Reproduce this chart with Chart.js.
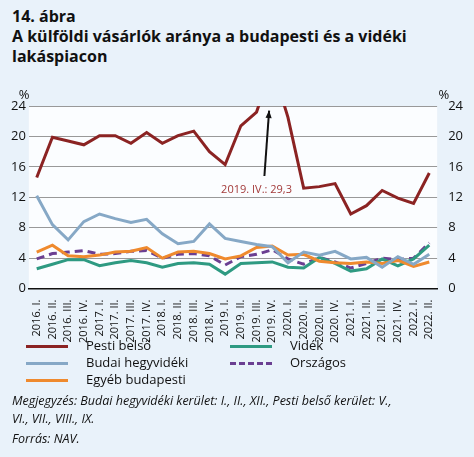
<!DOCTYPE html>
<html><head><meta charset="utf-8">
<script src="https://cdn.jsdelivr.net/npm/chart.js@4"></script>
<style>
body{margin:0;background:#e9f2fa;font-family:"Open Sans",Arial,sans-serif;width:474px;height:457px;overflow:hidden}
.t{position:absolute;left:12px;top:6px;font-weight:bold;font-size:16px;line-height:20px;color:#111}
#w{position:absolute;left:0;top:86px;width:474px;height:260px}
.lg{position:absolute;font-size:13px;color:#111}
.lg span{display:inline-block;width:42px;height:0;border-top:3px solid;vertical-align:middle;margin-right:18px}
.n{position:absolute;left:12px;font-size:12.5px;font-style:italic;color:#111;line-height:18px}
</style></head><body>
<div class="t">14. ábra<br>A külföldi vásárlók aránya a budapesti és a vidéki<br>lakáspiacon</div>
<div id="w"><canvas id="c"></canvas></div>
<div class="lg" style="left:26px;top:336px"><span style="border-color:#8b2323"></span>Pesti belső</div>
<div class="lg" style="left:26px;top:353px"><span style="border-color:#86a8c6"></span>Budai hegyvidéki</div>
<div class="lg" style="left:26px;top:370px"><span style="border-color:#ef8a2e"></span>Egyéb budapesti</div>
<div class="lg" style="left:230px;top:336px"><span style="border-color:#2e9a82"></span>Vidék</div>
<div class="lg" style="left:230px;top:353px"><span style="border-color:#6b3f92;border-top-style:dashed"></span>Országos</div>
<div class="n" style="top:392px">Megjegyzés: Budai hegyvidéki kerület: I., II., XII., Pesti belső kerület: V.,<br>VI., VII., VIII., IX.</div>
<div class="n" style="top:430px">Forrás: NAV.</div>
<script>
const categories=[];
const years=["2016","2017","2018","2019","2020","2021","2022"],qs=["I.","II.","III.","IV."];
years.forEach(y=>qs.forEach(q=>{if(!(y==="2022"&&(q==="III."||q==="IV.")))categories.push(y+". "+q);}));
const pestiBelso=[14.6,19.9,19.4,18.9,20.1,20.1,19.1,20.5,19.1,20.1,20.7,18.0,16.3,21.4,23.2,29.3,22.5,13.2,13.4,13.8,9.8,10.9,12.9,11.9,11.2,15.2];
const budai=[12.2,8.4,6.4,8.8,9.8,9.2,8.7,9.1,7.2,5.9,6.2,8.5,6.6,6.2,5.8,5.5,3.4,4.8,4.4,4.9,3.9,4.1,2.8,4.2,3.2,4.5];
const egyeb=[4.8,5.7,4.3,4.2,4.4,4.8,4.9,5.4,4.0,4.8,4.9,4.6,3.9,4.3,5.4,5.6,4.4,4.5,3.6,3.4,3.3,3.5,3.3,3.7,2.9,3.5];
const videk=[2.6,3.2,3.8,3.8,3.0,3.4,3.7,3.4,2.8,3.3,3.4,3.2,1.9,3.3,3.4,3.5,2.8,2.7,4.1,3.3,2.3,2.6,3.9,3.0,3.9,5.7];
const orszagos=[3.9,4.6,4.8,5.0,4.5,4.6,4.9,5.0,4.0,4.5,4.6,4.3,3.1,4.2,4.5,5.1,3.9,3.2,4.1,3.5,2.7,3.3,4.0,3.8,4.0,6.0];
const yTicks=[0,2,4,6,8,10,12,14,16,18,20,22,24];
const ds=(d,c,dash)=>({data:d,borderColor:c,borderWidth:3,pointRadius:0,tension:0,fill:false,borderDash:dash||[]});
const ann={id:'ann',afterDatasetsDraw(ch){const x=ch.scales.x,y=ch.scales.y,c=ch.ctx;
 const x0=x.getPixelForValue(14.5),y0=y.getPixelForValue(14.8),x1=x.getPixelForValue(14.8),y1=y.getPixelForValue(23.4);
 c.save();c.strokeStyle='#111';c.fillStyle='#111';c.lineWidth=2;c.beginPath();c.moveTo(x0,y0);c.lineTo(x1,y1);c.stroke();
 const a=Math.atan2(y1-y0,x1-x0);c.beginPath();c.moveTo(x1,y1);c.lineTo(x1-8*Math.cos(a-0.4),y1-8*Math.sin(a-0.4));c.lineTo(x1-8*Math.cos(a+0.4),y1-8*Math.sin(a+0.4));c.fill();
 c.fillStyle='#a33a3a';c.font='11px "Open Sans"';c.textAlign='center';c.fillText('2019. IV.: 29,3',x.getPixelForValue(14),y.getPixelForValue(12.6));
 c.fillStyle='#111';c.font='13px "Open Sans"';c.textAlign='left';c.fillText('%',ch.chartArea.left-10,y.getPixelForValue(24)-7);c.textAlign='right';c.fillText('%',ch.chartArea.right+12,y.getPixelForValue(24)-7);
 c.restore();}};
const bg={id:'bg',beforeDraw(ch){const a=ch.chartArea;ch.ctx.fillStyle='#fbfdff';ch.ctx.fillRect(a.left,a.top,a.right-a.left,a.bottom-a.top);}};
const tk={font:{size:13,family:'"Open Sans"'},color:'#111'};
new Chart(document.getElementById('c'),{type:'line',
 data:{labels:categories,datasets:[ds(pestiBelso,'#8b2323'),ds(budai,'#86a8c6'),ds(egyeb,'#ef8a2e'),ds(videk,'#2e9a82'),ds(orszagos,'#6b3f92',[8,5])]},
 options:{responsive:true,maintainAspectRatio:false,animation:false,layout:{padding:{top:20,left:8,right:8}},
 plugins:{legend:{display:false},tooltip:{enabled:false}},
 scales:{x:{offset:true,grid:{display:false},border:{color:'#111',width:1.5},ticks:{font:{size:11,family:'"Open Sans"'},color:'#111',minRotation:90,maxRotation:90,autoSkip:false}},
 y:{min:0,max:24,afterBuildTicks:s=>{s.ticks=yTicks.map(v=>({value:v}))},ticks:tk,grid:{color:'#999',borderDash:[2,3],drawTicks:false},border:{display:false}},
 y2:{position:'right',min:0,max:24,afterBuildTicks:s=>{s.ticks=yTicks.map(v=>({value:v}))},ticks:tk,grid:{display:false},border:{display:false}}}},
 plugins:[bg,ann]});
</script></body></html>
